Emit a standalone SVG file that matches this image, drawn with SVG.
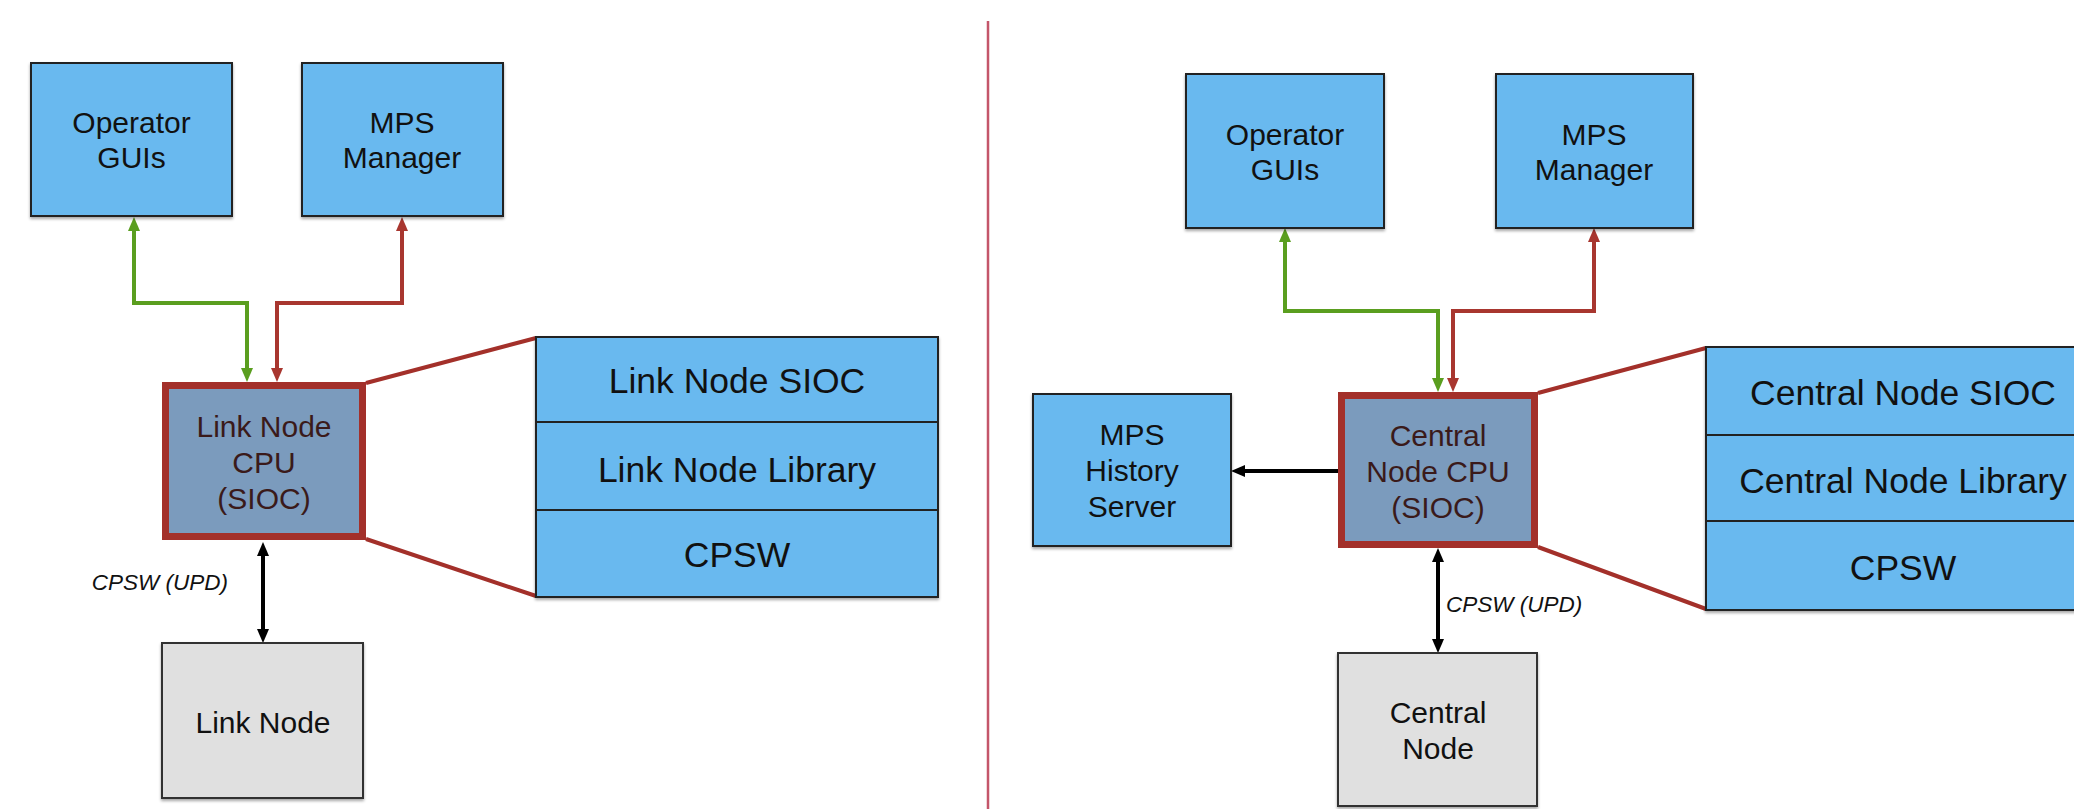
<svg xmlns="http://www.w3.org/2000/svg" width="2074" height="809" viewBox="0 0 2074 809">
<style>
text{font-family:"Liberation Sans",Arial,sans-serif;fill:#111;text-anchor:middle}
.lbl{font-size:30px}
.stk{font-size:35.5px}
.cpu text{fill:#3a1a1a}
.note{font-size:22.5px;font-style:italic}
.blue{fill:#69b9ef;stroke:#222;stroke-width:2}
.gray{fill:#e0e0e0;stroke:#333;stroke-width:2}
.cpubox{fill:#7b9bbd;stroke:#a3302a;stroke-width:7}
.green{fill:none;stroke:#5a9e1f;stroke-width:4}
.red{fill:none;stroke:#a8362f;stroke-width:4}
.blk{fill:none;stroke:#000;stroke-width:4}
.zoom{fill:none;stroke:#a3302a;stroke-width:4}
</style>
<defs>
<filter id="sh" x="-5%" y="-5%" width="110%" height="115%">
<feDropShadow dx="0" dy="2" stdDeviation="1.5" flood-color="#000" flood-opacity="0.35"/>
</filter>
<marker id="ag" markerUnits="userSpaceOnUse" markerWidth="14" markerHeight="12" refX="0" refY="6" orient="auto-start-reverse"><path d="M0,0 L14,6 L0,12 z" fill="#5a9e1f"/></marker>
<marker id="ar" markerUnits="userSpaceOnUse" markerWidth="14" markerHeight="12" refX="0" refY="6" orient="auto-start-reverse"><path d="M0,0 L14,6 L0,12 z" fill="#a8362f"/></marker>
<marker id="ab" markerUnits="userSpaceOnUse" markerWidth="14" markerHeight="12" refX="0" refY="6" orient="auto-start-reverse"><path d="M0,0 L14,6 L0,12 z" fill="#000"/></marker>
</defs>
<rect width="2074" height="809" fill="#fff"/>
<line x1="988" y1="21" x2="988" y2="809" stroke="#c4566a" stroke-width="2.5"/>

<g id="connectors">
<path class="zoom" d="M366,383 L536,338 M366,539 L536,596"/>
<path class="zoom" d="M1538,393 L1706,348 M1538,547 L1706,609"/>
<path class="green" d="M134,231 V303 H247 V368" marker-start="url(#ag)" marker-end="url(#ag)"/>
<path class="red" d="M402,231 V303 H277 V368" marker-start="url(#ar)" marker-end="url(#ar)"/>
<path class="blk" d="M263,556 V629" marker-start="url(#ab)" marker-end="url(#ab)"/>
<path class="green" d="M1285,242 V311 H1438 V378" marker-start="url(#ag)" marker-end="url(#ag)"/>
<path class="red" d="M1594,242 V311 H1453 V378" marker-start="url(#ar)" marker-end="url(#ar)"/>
<path class="blk" d="M1438,562 V639" marker-start="url(#ab)" marker-end="url(#ab)"/>
<path class="blk" d="M1338,471 H1245" marker-end="url(#ab)"/>
<text class="note" x="228" y="590" text-anchor="end" style="text-anchor:end">CPSW (UPD)</text>
<text class="note" x="1446" y="612" style="text-anchor:start">CPSW (UPD)</text>
</g>

<g id="op-guis-left">
<rect class="blue" x="31" y="63" width="201" height="153" filter="url(#sh)"/>
<text class="lbl" x="131.5" y="133">Operator</text>
<text class="lbl" x="131.5" y="168">GUIs</text>
</g>
<g id="mps-manager-left">
<rect class="blue" x="302" y="63" width="201" height="153" filter="url(#sh)"/>
<text class="lbl" x="402" y="133">MPS</text>
<text class="lbl" x="402" y="168">Manager</text>
</g>
<g id="link-cpu" class="cpu">
<rect class="cpubox" x="165.5" y="385.5" width="197" height="151"/>
<text class="lbl" x="264" y="437">Link Node</text>
<text class="lbl" x="264" y="473">CPU</text>
<text class="lbl" x="264" y="509">(SIOC)</text>
</g>
<g id="link-stack">
<rect class="blue" x="536" y="337" width="402" height="260" filter="url(#sh)"/>
<line x1="536" y1="422" x2="938" y2="422" stroke="#222" stroke-width="2"/>
<line x1="536" y1="510" x2="938" y2="510" stroke="#222" stroke-width="2"/>
<text class="stk" x="737" y="393">Link Node SIOC</text>
<text class="stk" x="737" y="482">Link Node Library</text>
<text class="stk" x="737" y="567">CPSW</text>
</g>
<g id="link-node">
<rect class="gray" x="162" y="643" width="201" height="155" filter="url(#sh)"/>
<text class="lbl" x="263" y="733">Link Node</text>
</g>

<g id="op-guis-right">
<rect class="blue" x="1186" y="74" width="198" height="154" filter="url(#sh)"/>
<text class="lbl" x="1285" y="145">Operator</text>
<text class="lbl" x="1285" y="180">GUIs</text>
</g>
<g id="mps-manager-right">
<rect class="blue" x="1496" y="74" width="197" height="154" filter="url(#sh)"/>
<text class="lbl" x="1594" y="145">MPS</text>
<text class="lbl" x="1594" y="180">Manager</text>
</g>
<g id="mps-history">
<rect class="blue" x="1033" y="394" width="198" height="152" filter="url(#sh)"/>
<text class="lbl" x="1132" y="445">MPS</text>
<text class="lbl" x="1132" y="481">History</text>
<text class="lbl" x="1132" y="517">Server</text>
</g>
<g id="central-cpu" class="cpu">
<rect class="cpubox" x="1341.5" y="395.5" width="193" height="149"/>
<text class="lbl" x="1438" y="446">Central</text>
<text class="lbl" x="1438" y="482">Node CPU</text>
<text class="lbl" x="1438" y="518">(SIOC)</text>
</g>
<g id="central-stack">
<rect class="blue" x="1706" y="347" width="394" height="263" filter="url(#sh)"/>
<line x1="1706" y1="435" x2="2100" y2="435" stroke="#222" stroke-width="2"/>
<line x1="1706" y1="521" x2="2100" y2="521" stroke="#222" stroke-width="2"/>
<text class="stk" x="1903" y="405">Central Node SIOC</text>
<text class="stk" x="1903" y="493">Central Node Library</text>
<text class="stk" x="1903" y="580">CPSW</text>
</g>
<g id="central-node">
<rect class="gray" x="1338" y="653" width="199" height="153" filter="url(#sh)"/>
<text class="lbl" x="1438" y="723">Central</text>
<text class="lbl" x="1438" y="759">Node</text>
</g>
</svg>
